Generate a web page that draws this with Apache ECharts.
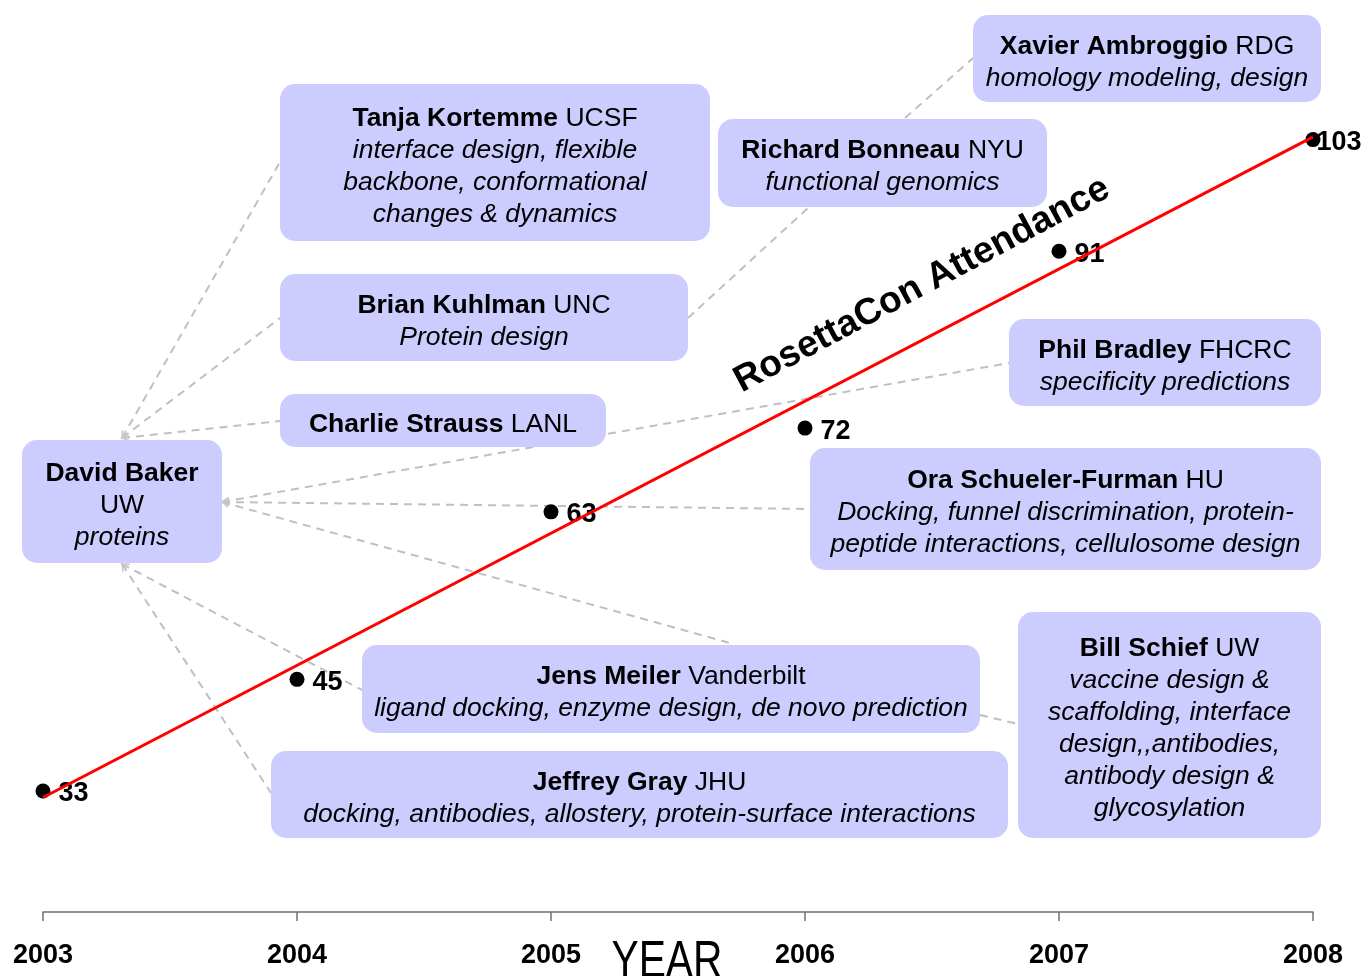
<!DOCTYPE html>
<html><head><meta charset="utf-8">
<script src="https://cdn.jsdelivr.net/npm/echarts@6/dist/echarts.min.js"></script>
<style>html,body{margin:0;padding:0;background:#fff}#c{width:1363px;height:976px}</style>
</head><body><div id="c"></div>
<script>
// ---- data ----
const years = [2003, 2004, 2005, 2006, 2007, 2008];
const attendance = [33, 45, 63, 72, 91, 103];
const yearLabels = ['2003', '2004', '2005', '2006', '2007', '2008'];
const trendYears = [2003, 2008];
const trendValues = [32.3, 103.3];
const axisTitle = 'YEAR';
const lineTitle = 'RosettaCon Attendance';

// annotation texts ({b|..} bold, {n|..} normal, {i|..} italic)
const noteTexts = [
  ['{b|David Baker}', '{n|UW}', '{i|proteins}'],
  ['{b|Tanja Kortemme}{n| UCSF}', '{i|interface design, flexible}', '{i|backbone, conformational}', '{i|changes & dynamics}'],
  ['{b|Brian Kuhlman}{n| UNC}', '{i|Protein design}'],
  ['{b|Charlie Strauss}{n| LANL}'],
  ['{b|Richard Bonneau}{n| NYU}', '{i|functional genomics}'],
  ['{b|Xavier Ambroggio}{n| RDG}', '{i|homology modeling, design}'],
  ['{b|Phil Bradley}{n| FHCRC}', '{i|specificity predictions}'],
  ['{b|Ora Schueler-Furman}{n| HU}', '{i|Docking, funnel discrimination, protein-}', '{i|peptide interactions, cellulosome design}'],
  ['{b|Jens Meiler}{n| Vanderbilt}', '{i|ligand docking, enzyme design, de novo prediction}'],
  ['{b|Jeffrey Gray}{n| JHU}', '{i|docking, antibodies, allostery, protein-surface interactions}'],
  ['{b|Bill Schief}{n| UW}', '{i|vaccine design &}', '{i|scaffolding, interface}', '{i|design,,antibodies,}', '{i|antibody design &}', '{i|glycosylation}']
];

// ---- layout (pixels) ----
const noteBoxes = [
  [22, 440, 200, 123], [280, 84, 430, 157], [280, 274, 408, 87], [280, 394, 326, 53],
  [718, 119, 329, 88], [973, 15, 348, 87], [1009, 319, 312, 87], [810, 448, 511, 122],
  [362, 645, 618, 88], [271, 751, 737, 87], [1018, 612, 303, 226]
];
const connectors = [
  [122, 438, 280, 162, 1], [122, 438, 280, 318, 1], [122, 438, 280, 421, 1],
  [222, 502, 1009, 363, 1], [222, 502, 810, 509, 1], [222, 502, 730, 643, 1],
  [122, 564, 362, 690, 1], [122, 564, 271, 793, 1],
  [688, 318, 808, 208, 0], [905, 118, 973, 58, 0], [980, 715, 1018, 724, 0]
];

const FONT = '"Liberation Sans", Arial, sans-serif';
const FS = 26.5;
const rich = {
  b: {fontWeight: 'bold', fontSize: FS, lineHeight: 32, fontFamily: FONT, fill: '#000', align: 'center'},
  n: {fontWeight: 'normal', fontSize: FS, lineHeight: 32, fontFamily: FONT, fill: '#000', align: 'center'},
  i: {fontStyle: 'italic', fontSize: FS, lineHeight: 32, fontFamily: FONT, fill: '#000', align: 'center'}
};

const graphics = [];
connectors.forEach(c => {
  graphics.push({
    type: 'line', z: 0, silent: true,
    shape: {x1: c[0], y1: c[1], x2: c[2], y2: c[3]},
    style: {stroke: '#c0c0c0', lineWidth: 2, lineDash: [8, 6]}
  });
  if (c[4]) {
    const a = Math.atan2(c[3] - c[1], c[2] - c[0]);
    const L = 8, s = 0.45;
    graphics.push({
      type: 'polyline', z: 0, silent: true,
      shape: {points: [
        [c[0] + L * Math.cos(a + s), c[1] + L * Math.sin(a + s)],
        [c[0], c[1]],
        [c[0] + L * Math.cos(a - s), c[1] + L * Math.sin(a - s)]
      ]},
      style: {stroke: '#c8c8c8', lineWidth: 1.5, fill: null}
    });
  }
});
noteBoxes.forEach((b, k) => {
  graphics.push({
    type: 'rect', z: 1, silent: true,
    shape: {x: b[0], y: b[1], width: b[2], height: b[3], r: 15},
    style: {fill: '#ccccff'}
  });
  graphics.push({
    type: 'text', z: 2, silent: true,
    x: b[0] + b[2] / 2, y: b[1] + b[3] / 2 + 4,
    style: {text: noteTexts[k].join('\n'), rich: rich, fontFamily: FONT, fontSize: FS, fill: '#000',
            align: 'center', verticalAlign: 'middle'}
  });
});
graphics.push({
  type: 'text', z: 10, silent: true, x: 922, y: 285, rotation: 0.49,
  style: {text: lineTitle, fontFamily: FONT, fontWeight: 'bold', fontSize: 37, fill: '#000', align: 'center', verticalAlign: 'middle'}
});
graphics.push({
  type: 'text', z: 10, silent: true, x: 667, y: 963, scaleX: 0.8,
  style: {text: axisTitle, fontFamily: FONT, fontSize: 51, fill: '#000', align: 'center', verticalAlign: 'middle'}
});

const chart = echarts.init(document.getElementById('c'), null, {renderer: 'canvas'});
chart.setOption({
  animation: false,
  backgroundColor: '#fff',
  grid: {left: 43, right: 50, top: 0, bottom: 64, containLabel: false},
  xAxis: {
    type: 'value', min: 2003, max: 2008, interval: 1,
    axisLine: {show: true, lineStyle: {color: '#707070', width: 1.5}},
    axisTick: {show: true, length: 9, lineStyle: {color: '#707070', width: 1.5}},
    splitLine: {show: false},
    axisLabel: {
      formatter: v => yearLabels[years.indexOf(v)],
      fontFamily: FONT, fontWeight: 'bold', fontSize: 27, color: '#000', margin: 30,
      showMinLabel: true, showMaxLabel: true
    }
  },
  yAxis: {type: 'value', min: 20, max: 118, show: false},
  graphic: graphics,
  series: [
    {
      type: 'scatter', z: 5, symbol: 'circle', symbolSize: 15,
      itemStyle: {color: '#000', opacity: 1},
      data: years.map((y, i) => {
        const d = {value: [y, attendance[i]]};
        if (i === years.length - 1) d.label = {offset: [-12, 3]};
        return d;
      }),
      label: {
        show: true, position: 'right', distance: 8, offset: [0, 3],
        formatter: p => String(p.value[1]),
        fontFamily: FONT, fontWeight: 'bold', fontSize: 27, color: '#000', opacity: 1
      }
    },
    {
      type: 'line', z: 6, showSymbol: false, symbol: 'none',
      data: trendYears.map((y, i) => [y, trendValues[i]]),
      lineStyle: {color: '#ff0000', width: 3}
    }
  ]
});
</script>
</body></html>
